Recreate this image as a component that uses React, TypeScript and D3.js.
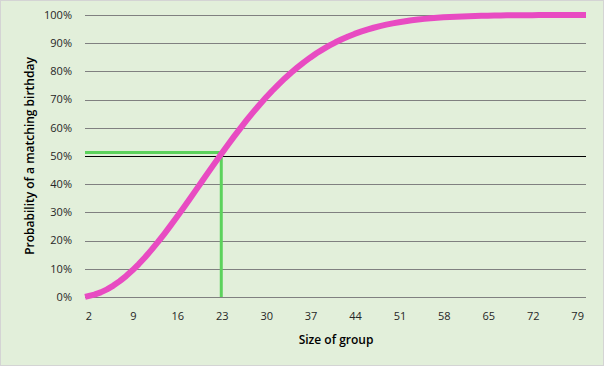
import React from "react";
import * as d3 from "d3";

const groupSizes: number[] = d3.range(2, 81);
const probabilities: number[] = [
  0.27, 0.82, 1.64, 2.71, 4.05, 5.62, 7.43, 9.46, 11.69, 14.11, 16.7, 19.44, 22.31, 25.29,
  28.36, 31.5, 34.69, 37.91, 41.14, 44.37, 47.57, 50.73, 53.83, 56.87, 59.82, 62.69, 65.45,
  68.1, 70.63, 73.05, 75.33, 77.5, 79.53, 81.44, 83.22, 84.87, 86.41, 87.82, 89.12, 90.32,
  91.4, 92.39, 93.29, 94.1, 94.83, 95.48, 96.06, 96.58, 97.04, 97.44, 97.8, 98.11, 98.39,
  98.63, 98.83, 99.01, 99.17, 99.3, 99.41, 99.51, 99.59, 99.66, 99.72, 99.77, 99.81, 99.84,
  99.87, 99.9, 99.92, 99.93, 99.95, 99.96, 99.97, 99.97, 99.98, 99.98, 99.99, 99.99, 99.99,
];
const xTickLabels: number[] = [2, 9, 16, 23, 30, 37, 44, 51, 58, 65, 72, 79];
const yTicks: number[] = [0, 10, 20, 30, 40, 50, 60, 70, 80, 90, 100];
const highlightSize = 23;
const highlightProb = 50.73;

const W = 604;
const H = 366;
const plotLeft = 85;
const plotRight = 586;
const plotTop = 15;
const plotBottom = 297;

export default function App() {
  const x = d3.scaleLinear().domain([2, 80]).range([88, 583]);
  const y = d3.scaleLinear().domain([0, 100]).range([plotBottom, plotTop]);
  const line = d3
    .line<number>()
    .x((_, i) => x(groupSizes[i]))
    .y((d) => y(d))
    .curve(d3.curveLinear);
  const font = "'Open Sans', 'Noto Sans', sans-serif";
  return (
    <div style={{ position: "fixed", left: 0, top: 0 }}>
      <svg width={W} height={H} style={{ display: "block" }}>
        <rect x={0.5} y={0.5} width={W - 1} height={H - 1} fill="#E2EFDA" stroke="#D4D4D4" />
        {yTicks.map((t) => (
          <g key={t}>
            <line
              x1={plotLeft}
              x2={plotRight}
              y1={Math.round(y(t)) + 0.5}
              y2={Math.round(y(t)) + 0.5}
              stroke={t === 50 ? "#000000" : "#808080"}
              strokeWidth={1}
            />
            <text
              x={72}
              y={y(t)}
              dy="0.35em"
              textAnchor="end"
              fontFamily={font}
              fontSize={11}
              fill="#262626"
            >
              {t}%
            </text>
          </g>
        ))}
        {xTickLabels.map((t) => (
          <text
            key={t}
            x={x(t) + 1}
            y={316}
            dy="0.35em"
            textAnchor="middle"
            fontFamily={font}
            fontSize={11}
            fill="#262626"
          >
            {t}
          </text>
        ))}
        <line
          x1={plotLeft}
          x2={x(highlightSize)}
          y1={y(highlightProb) - 1.5}
          y2={y(highlightProb) - 1.5}
          stroke="#5CD25C"
          strokeWidth={3}
        />
        <line
          x1={x(highlightSize)}
          x2={x(highlightSize)}
          y1={y(highlightProb) - 3}
          y2={plotBottom}
          stroke="#5CD25C"
          strokeWidth={3}
        />
        <path
          d={line(probabilities) || ""}
          fill="none"
          stroke="#E84BC2"
          strokeWidth={6}
          strokeLinecap="square"
          strokeLinejoin="round"
        />
        <text
          x={336}
          y={340}
          dy="0.35em"
          textAnchor="middle"
          fontFamily={font}
          fontSize={12}
          fontWeight={600}
          fill="#000"
        >
          Size of group
        </text>
        <text
          transform={`translate(30, ${(plotTop + plotBottom) / 2}) rotate(-90)`}
          dy="0.35em"
          textAnchor="middle"
          fontFamily={font}
          fontSize={12}
          fontWeight={600}
          fill="#000"
        >
          Probability of a matching birthday
        </text>
      </svg>
    </div>
  );
}
